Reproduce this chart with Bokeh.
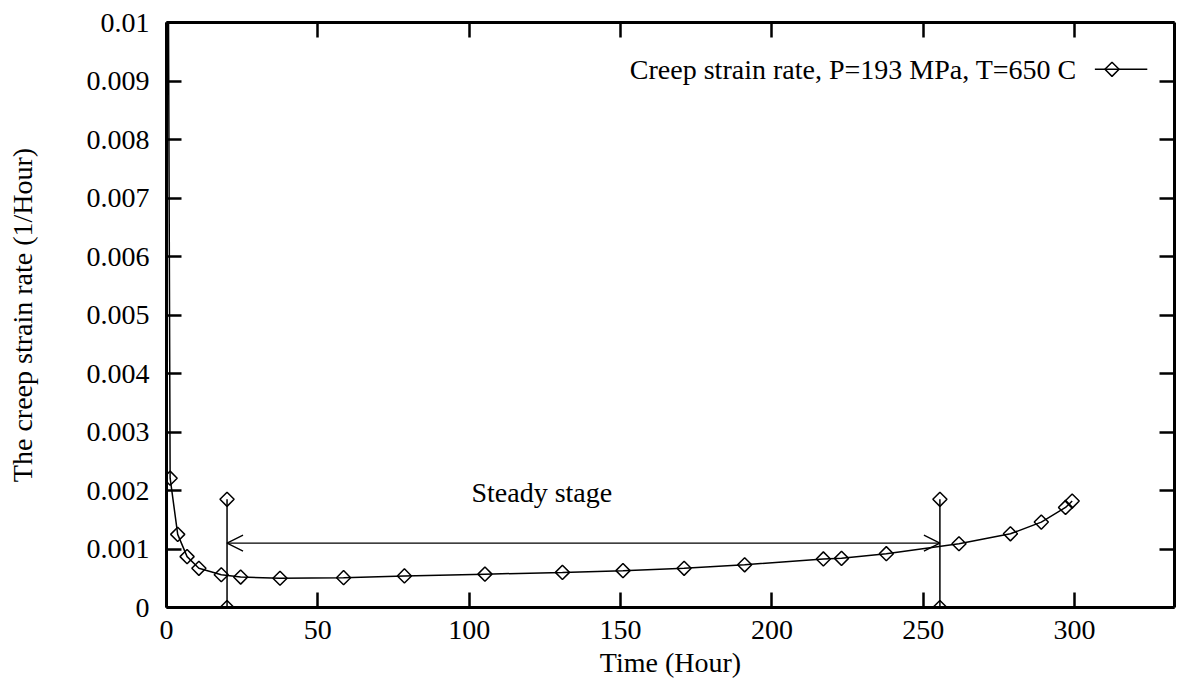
import numpy as np
from bokeh.plotting import figure
from bokeh.models import Range1d, FixedTicker, LinearAxis, Arrow, OpenHead, Label
from bokeh.embed import file_html
from bokeh.resources import INLINE

# Creep test at P=193 MPa, T=650 C: strain rate vs time
time_h = [0.5, 1.2, 3.7, 6.8, 10.7, 18.1, 24.5, 37.5, 58.5, 78.6, 105.2,
          130.8, 150.8, 171.0, 191.0, 217.0, 223.0, 237.8, 261.8, 278.8,
          289.0, 297.0, 299.2]
creep_rate = [0.0125, 0.00221, 0.00125, 0.00087, 0.00067, 0.00056, 0.00052,
              0.00050, 0.00051, 0.00054, 0.00057, 0.00060, 0.00063, 0.00067,
              0.00073, 0.00083, 0.00084, 0.00092, 0.00109, 0.00126, 0.00146,
              0.00171, 0.00182]

# Boundaries of the steady (secondary) creep stage
stage_bounds = [20.0, 255.5]
stage_marker_rate = [0.0, 0.00185]
stage_arrow_rate = 0.0011
stage_text = "Steady stage"
stage_text_x = 124.0
stage_text_rate = 0.00196

x_ticks = [0, 50, 100, 150, 200, 250, 300]
x_tick_labels = ["0", "50", "100", "150", "200", "250", "300"]
y_ticks = [0.0, 0.001, 0.002, 0.003, 0.004, 0.005, 0.006, 0.007, 0.008, 0.009, 0.01]
y_tick_labels = ["0", "0.001", "0.002", "0.003", "0.004", "0.005", "0.006",
                 "0.007", "0.008", "0.009", "0.01"]

legend_label = "Creep strain rate, P=193 MPa, T=650 C"
x_title = "Time (Hour)"
y_title = "The creep strain rate (1/Hour)"

FONT = "Liberation Serif"
FS = "28px"
X_MAX = 333.0
Y_MAX = 0.01

p = figure(width=1183, height=688,
           x_range=Range1d(0, X_MAX), y_range=Range1d(0, Y_MAX),
           output_backend="svg", toolbar_location=None,
           min_border_left=166, min_border_right=9,
           min_border_top=22, min_border_bottom=81,
           x_axis_label=x_title, y_axis_label=y_title)
p.grid.visible = False
p.outline_line_color = None
p.background_fill_color = "white"
p.border_fill_color = "white"

p.add_layout(LinearAxis(), "right")
p.add_layout(LinearAxis(), "above")


def style_axis(ax, ticks, labels, show_labels):
    ax.ticker = FixedTicker(ticks=ticks, minor_ticks=[])
    ax.axis_line_width = 3
    ax.axis_line_color = "black"
    ax.major_tick_in = 15
    ax.major_tick_out = 0
    ax.major_tick_line_width = 2.5
    ax.major_tick_line_color = "black"
    ax.minor_tick_line_color = None
    ax.major_label_text_font = FONT
    ax.axis_label_text_font = FONT
    ax.axis_label_text_font_size = FS
    ax.axis_label_text_font_style = "normal"
    ax.axis_label_text_color = "black"
    if show_labels:
        ax.major_label_overrides = {t: s for t, s in zip(ticks, labels)}
        ax.major_label_text_font_size = FS
        ax.major_label_text_color = "black"
    else:
        # mirrored ticks only, no numbers
        ax.major_label_text_font_size = "1px"
        ax.major_label_text_color = None
        ax.major_label_standoff = 0


for ax in p.below:
    style_axis(ax, x_ticks, x_tick_labels, True)
    ax.major_label_standoff = 13
    ax.axis_label_standoff = 5
for ax in p.above:
    style_axis(ax, x_ticks, x_tick_labels, False)
for ax in p.left:
    style_axis(ax, y_ticks, y_tick_labels, True)
    ax.major_label_standoff = 17
    ax.axis_label_standoff = 46
for ax in p.right:
    style_axis(ax, y_ticks, y_tick_labels, False)

diamond = dict(marker="square", angle=np.pi / 4, size=10, fill_color=None,
               line_color="black", line_width=1.5)

# measured curve
p.line(time_h, creep_rate, line_color="black", line_width=1.5)
p.scatter(time_h, creep_rate, **diamond)

# stage boundary markers
for xb in stage_bounds:
    p.line([xb, xb], stage_marker_rate, line_color="black", line_width=1.5)
    p.scatter([xb, xb], stage_marker_rate, **diamond)

p.add_layout(Arrow(start=OpenHead(size=16, line_width=1.3),
                   end=OpenHead(size=16, line_width=1.3),
                   x_start=stage_bounds[0], y_start=stage_arrow_rate,
                   x_end=stage_bounds[1], y_end=stage_arrow_rate,
                   line_width=1.3, line_color="black"))

p.add_layout(Label(x=stage_text_x, y=stage_text_rate, text=stage_text,
                   text_font=FONT, text_font_size=FS, text_align="center",
                   text_baseline="alphabetic", text_color="black"))

# key in the upper right: label text followed by a line sample
key_y = 0.92 * Y_MAX
key_text_x = 0.903 * X_MAX
key_line_x = [0.921 * X_MAX, 0.973 * X_MAX]
key_mark_x = 0.938 * X_MAX
p.add_layout(Label(x=key_text_x, y=key_y, text=legend_label,
                   text_font=FONT, text_font_size=FS, text_align="right",
                   text_baseline="middle", text_color="black"))
p.line(key_line_x, [key_y, key_y], line_color="black", line_width=1.5)
p.scatter([key_mark_x], [key_y], **diamond)

open("out.html", "w").write(file_html(p, INLINE))
